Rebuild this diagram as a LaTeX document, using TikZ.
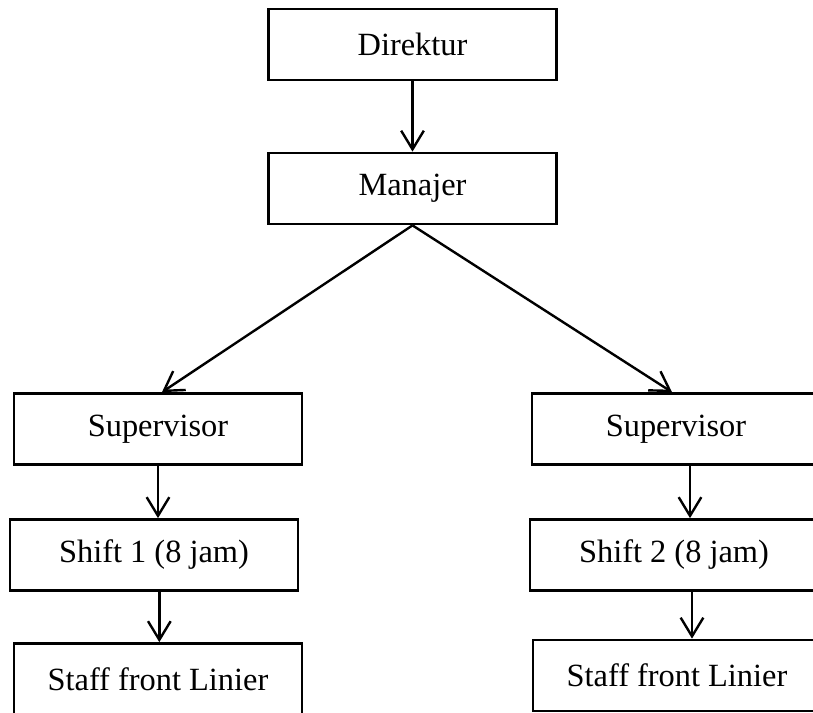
\documentclass[tikz,border=0pt]{standalone}
\usepackage{fontspec}
\setmainfont{Liberation Serif}
\usetikzlibrary{arrows.meta}
\begin{document}
\begin{tikzpicture}[x=0.75pt,y=-0.75pt,
  box/.style={draw,line width=1.8pt,rectangle,minimum width=216pt,minimum height=53.5pt,inner sep=0pt,font=\fontsize{24.3}{29}\selectfont},
  arr/.style={line width=1.8pt,-{Straight Barb[length=14pt,width=17pt,line width=1.8pt]}}]
\useasboundingbox (0,0) rectangle (813,713);
\clip (0,0) rectangle (813,713);
\node[box] (dir) at (412.5,44.5) {Direktur};
\node[box] (man) at (412.5,188.5) {Manajer};
\node[box] (supl) at (158,429) {Supervisor};
\node[box] (supr) at (676,429) {Supervisor};
\node[box] (sh1) at (154,555) {Shift 1 (8 jam)};
\node[box] (sh2) at (674,555) {Shift 2 (8 jam)};
\node[box] (stl) at (158,679) {Staff front Linier};
\node[box] (str) at (677,675.5) {Staff front Linier};
\draw[arr] (dir.south) -- (man.north);
\draw[arr] (man.south) -- ([xshift=3pt]supl.north);
\draw[arr] (man.south) -- ([xshift=-3pt]supr.north);
\draw[arr] (supl.south) -- (supl.south |- sh1.north);
\draw[arr] ([xshift=10.5pt]supr.south) -- ([xshift=10.5pt]supr.south |- sh2.north);
\draw[arr] ([xshift=4pt]sh1.south) -- ([xshift=4pt]sh1.south |- stl.north);
\draw[arr] ([xshift=13.5pt]sh2.south) -- ([xshift=13.5pt]sh2.south |- str.north);
\end{tikzpicture}
\end{document}
